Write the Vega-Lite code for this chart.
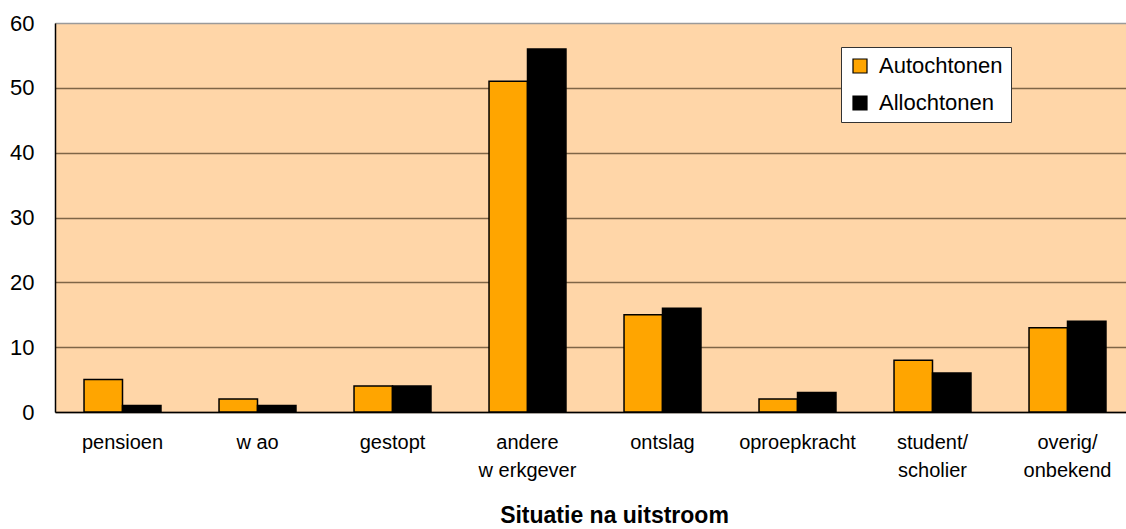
{
  "$schema": "https://vega.github.io/schema/vega-lite/v6.json",
  "autosize": {"type": "none"},
  "width": 1071,
  "height": 389,
  "padding": {"left": 55, "top": 23, "right": 0, "bottom": 117},
  "background": "white",
  "config": {
    "font": "Liberation Sans",
    "view": {"fill": "#FFD6A8", "stroke": null}
  },
  "data": {
    "values": [
      {"situatie": "pensioen", "groep": "Autochtonen", "waarde": 5},
      {"situatie": "pensioen", "groep": "Allochtonen", "waarde": 1},
      {"situatie": "w ao", "groep": "Autochtonen", "waarde": 2},
      {"situatie": "w ao", "groep": "Allochtonen", "waarde": 1},
      {"situatie": "gestopt", "groep": "Autochtonen", "waarde": 4},
      {"situatie": "gestopt", "groep": "Allochtonen", "waarde": 4},
      {"situatie": "andere|w erkgever", "groep": "Autochtonen", "waarde": 51},
      {"situatie": "andere|w erkgever", "groep": "Allochtonen", "waarde": 56},
      {"situatie": "ontslag", "groep": "Autochtonen", "waarde": 15},
      {"situatie": "ontslag", "groep": "Allochtonen", "waarde": 16},
      {"situatie": "oproepkracht", "groep": "Autochtonen", "waarde": 2},
      {"situatie": "oproepkracht", "groep": "Allochtonen", "waarde": 3},
      {"situatie": "student/|scholier", "groep": "Autochtonen", "waarde": 8},
      {"situatie": "student/|scholier", "groep": "Allochtonen", "waarde": 6},
      {"situatie": "overig/|onbekend", "groep": "Autochtonen", "waarde": 13},
      {"situatie": "overig/|onbekend", "groep": "Allochtonen", "waarde": 14}
    ]
  },
  "mark": {"type": "bar", "stroke": "black", "strokeWidth": 1.5},
  "encoding": {
    "x": {
      "field": "situatie",
      "type": "nominal",
      "sort": null,
      "scale": {"paddingInner": 0.43, "paddingOuter": 0.215, "range": [0, 1080]},
      "axis": {
        "title": "Situatie na uitstroom",
        "titleFontSize": 23,
        "titleFontWeight": "bold",
        "titleColor": "black",
        "titleBaseline": "alphabetic",
        "titleAlign": "center",
        "titleX": 559,
        "titleY": 110,
        "labelAngle": 0,
        "labelFontSize": 20,
        "labelColor": "black",
        "labelPadding": 20,
        "labelLineHeight": 28,
        "labelExpr": "split(datum.label, '|')",
        "ticks": false,
        "domainColor": "black",
        "domainWidth": 1.5
      }
    },
    "xOffset": {"field": "groep", "type": "nominal", "sort": ["Autochtonen", "Allochtonen"]},
    "y": {
      "field": "waarde",
      "type": "quantitative",
      "scale": {"domain": [0, 60], "nice": false},
      "axis": {
        "title": null,
        "values": [0, 10, 20, 30, 40, 50, 60],
        "labelFontSize": 22,
        "labelColor": "black",
        "labelPadding": 21,
        "ticks": false,
        "domainColor": "black",
        "domainWidth": 1.5,
        "gridColor": {"condition": {"test": "datum.value == 60", "value": "#9a9a9a"}, "value": "#7f6647"},
        "gridWidth": 1.4
      }
    },
    "color": {
      "field": "groep",
      "type": "nominal",
      "sort": ["Autochtonen", "Allochtonen"],
      "scale": {"domain": ["Autochtonen", "Allochtonen"], "range": ["#FFA500", "#000000"]},
      "legend": {
        "title": null,
        "orient": "none",
        "legendX": 786,
        "legendY": 24,
        "fillColor": "white",
        "strokeColor": "#333333",
        "padding": 8,
        "symbolType": "square",
        "symbolSize": 196,
        "symbolStrokeColor": "black",
        "symbolStrokeWidth": 1.2,
        "labelFontSize": 22,
        "labelColor": "black",
        "rowPadding": 15,
        "labelOffset": 8
      }
    }
  }
}
